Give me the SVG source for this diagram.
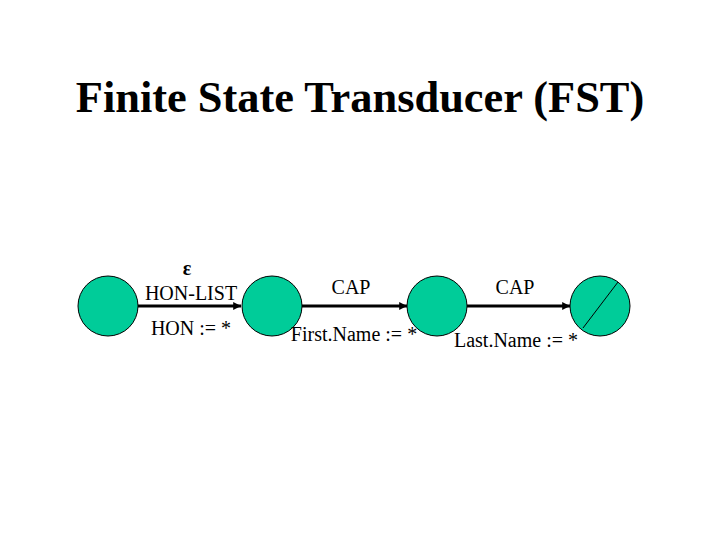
<svg xmlns="http://www.w3.org/2000/svg" width="720" height="540" viewBox="0 0 720 540">
<style>
.node{fill:#00CC99;stroke:#000;stroke-width:1}
.lbl{font-family:"Liberation Serif",serif;font-size:20px;fill:#000;text-anchor:middle}
.title{font-family:"Liberation Serif",serif;font-size:44.4px;font-weight:bold;fill:#000;text-anchor:middle}
.edge{stroke:#000;stroke-width:3;fill:none}
</style>
<defs>
<marker id="arr" viewBox="0 0 10 10" refX="10" refY="5" markerWidth="3" markerHeight="2.6" orient="auto" markerUnits="strokeWidth">
<path d="M0,0 L10,5 L0,10 z" fill="#000"/>
</marker>
</defs>
<rect width="720" height="540" fill="#fff"/>
<text class="title" x="360" y="112">Finite State Transducer (FST)</text>
<g id="connectors">
<line class="edge" x1="138" y1="306" x2="241" y2="306" marker-end="url(#arr)"/>
<line class="edge" x1="302" y1="306" x2="407" y2="306" marker-end="url(#arr)"/>
<line class="edge" x1="467" y1="306" x2="570" y2="306" marker-end="url(#arr)"/>
</g>
<g id="n1"><circle class="node" cx="108" cy="306" r="30"/></g>
<g id="n2"><circle class="node" cx="272" cy="306" r="30"/></g>
<g id="n3"><circle class="node" cx="437" cy="306" r="30"/></g>
<g id="n4"><circle class="node" cx="600" cy="306" r="30"/><line x1="583" y1="328" x2="618" y2="282" stroke="#000" stroke-width="1"/></g>
<g id="labels">
<text class="lbl" x="187" y="275" style="font-weight:bold">ε</text>
<text class="lbl" x="191" y="300">HON-LIST</text>
<text class="lbl" x="191" y="335">HON := *</text>
<text class="lbl" x="351" y="294">CAP</text>
<text class="lbl" x="354" y="341">First.Name := *</text>
<text class="lbl" x="515" y="294">CAP</text>
<text class="lbl" x="516" y="347">Last.Name := *</text>
</g>
</svg>
